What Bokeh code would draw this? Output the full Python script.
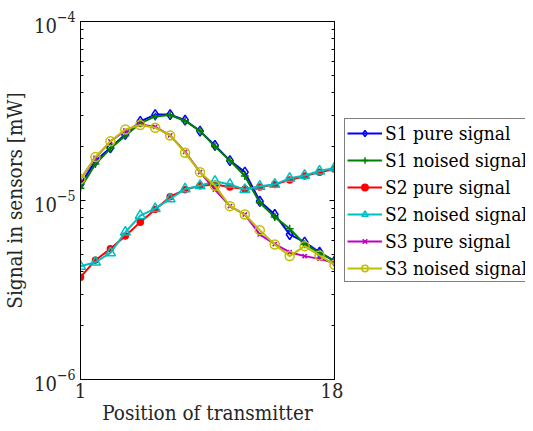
from bokeh.plotting import figure
from bokeh.layouts import row
from bokeh.models import (FixedTicker, LogAxis, Legend, LegendItem, Range1d)
from bokeh.embed import file_html
from bokeh.resources import INLINE

positions = list(range(1, 19))
s1_pure = [1.23e-5, 1.66e-5, 1.97e-5, 2.34e-5, 2.77e-5, 3.02e-5, 3.02e-5, 2.81e-5, 2.44e-5,
           2.03e-5, 1.67e-5, 1.44e-5, 9.9e-6, 8.35e-6, 6.46e-6, 5.85e-6, 5.14e-6, 4.58e-6]
s1_noised = [1.17e-5, 1.60e-5, 1.95e-5, 2.30e-5, 2.70e-5, 2.95e-5, 3.00e-5, 2.78e-5, 2.45e-5,
             2.00e-5, 1.67e-5, 1.37e-5, 9.7e-6, 8.1e-6, 6.95e-6, 5.7e-6, 5.1e-6, 4.6e-6]
s2_pure = [3.73e-6, 4.64e-6, 5.37e-6, 6.33e-6, 7.57e-6, 8.9e-6, 1.05e-5, 1.15e-5, 1.21e-5,
           1.23e-5, 1.19e-5, 1.16e-5, 1.19e-5, 1.23e-5, 1.30e-5, 1.37e-5, 1.44e-5, 1.50e-5]
s2_noised = [4.29e-6, 4.52e-6, 5.10e-6, 6.65e-6, 8.24e-6, 9.0e-6, 1.02e-5, 1.16e-5, 1.21e-5,
             1.28e-5, 1.23e-5, 1.15e-5, 1.20e-5, 1.23e-5, 1.33e-5, 1.38e-5, 1.46e-5, 1.52e-5]
s3_pure = [1.32e-5, 1.73e-5, 2.14e-5, 2.46e-5, 2.66e-5, 2.58e-5, 2.31e-5, 1.87e-5, 1.44e-5,
           1.15e-5, 9.3e-6, 8.35e-6, 6.46e-6, 5.7e-6, 5.14e-6, 4.89e-6, 4.72e-6, 4.48e-6]
s3_noised = [1.32e-5, 1.75e-5, 2.14e-5, 2.49e-5, 2.64e-5, 2.55e-5, 2.31e-5, 1.85e-5, 1.44e-5,
             1.21e-5, 9.3e-6, 8.35e-6, 6.83e-6, 5.68e-6, 4.89e-6, 5.56e-6, 4.93e-6, 4.38e-6]

series_labels = ["S1 pure signal", "S1 noised signal", "S2 pure signal",
                 "S2 noised signal", "S3 pure signal", "S3 noised signal"]
y_major = [1e-6, 1e-5, 1e-4]
x_major = [1, 18]

FONT = "DejaVu Serif Condensed"

p = figure(frame_width=254, frame_height=358, y_axis_type="log",
           x_range=Range1d(1, 18), y_range=Range1d(1e-6, 1e-4),
           output_backend="svg", toolbar_location=None,
           min_border_left=72, min_border_top=21, min_border_right=9,
           min_border_bottom=51)
p.grid.visible = False
p.outline_line_color = "black"
p.outline_line_width = 1

minor = [m * 10.0 ** e for e in (-6, -5) for m in range(2, 10)]

yax = p.yaxis[0]
yax.ticker = FixedTicker(ticks=y_major, minor_ticks=minor)
xax = p.xaxis[0]
xax.ticker = FixedTicker(ticks=x_major)

for ax in (xax, yax):
    ax.major_tick_in = 5
    ax.major_tick_out = 0
    ax.minor_tick_in = 3
    ax.minor_tick_out = 0
    ax.axis_line_color = "black"
    ax.major_label_text_font = FONT
    ax.major_label_text_font_size = "20px"
    ax.major_label_text_color = "#262626"
    ax.axis_label_text_font = FONT
    ax.axis_label_text_font_size = "20.5px"
    ax.axis_label_text_font_style = "normal"
    ax.axis_label_text_color = "#262626"

xax.axis_label = "Position of transmitter"
yax.axis_label = "Signal in sensors [mW]"
xax.axis_label_standoff = 0
yax.axis_label_standoff = 4
xax.major_label_standoff = 3

rax = LogAxis(ticker=FixedTicker(ticks=y_major, minor_ticks=minor),
              major_label_text_font_size="1px", major_label_text_color=None,
              major_label_standoff=0,
              major_tick_in=5, major_tick_out=0,
              minor_tick_in=3, minor_tick_out=0, axis_line_color="black")
p.add_layout(rax, "right")

data = [s1_pure, s1_noised, s2_pure, s2_noised, s3_pure, s3_noised]
colors = ["#0000ff", "#008000", "#ff0000", "#00bfbf", "#bf00bf", "#bfbf00"]
markers = ["diamond", "cross", "circle", "triangle", "x", "circle"]
sizes = [10, 8, 6, 10, 6, 9]
fills = [None, None, "#ff0000", None, None, None]

# legend panel: a second, axis-free figure holding the legend inside its frame
lg = figure(width=182, height=423, output_backend="svg", toolbar_location=None,
            x_axis_location=None, y_axis_location=None,
            min_border_left=0, min_border_right=0, min_border_top=0,
            min_border_bottom=0)
lg.grid.visible = False
lg.outline_line_color = None

items = []
for vals, col, mk, sz, fc, lab in zip(data, colors, markers, sizes, fills, series_labels):
    p.line(positions, vals, line_color=col, line_width=2)
    p.scatter(positions, vals, marker=mk, size=sz, line_color=col,
              fill_color=fc, line_width=1.5)
    l1 = lg.line(positions, vals, line_color=col, line_width=2, visible=False)
    l2 = lg.scatter(positions, vals, marker=mk, size=sz, line_color=col,
                    fill_color=fc, line_width=1.5, visible=False)
    items.append(LegendItem(label=lab, renderers=[l1, l2]))

legend = Legend(items=items, location=(1, 90), label_text_font=FONT,
                label_text_font_size="19px", label_text_color="black",
                border_line_color="black", border_line_width=1,
                glyph_width=35, glyph_height=16, label_standoff=3,
                spacing=4, padding=2, margin=0, label_height=23,
                background_fill_color="white", background_fill_alpha=1)
lg.add_layout(legend, "center")

open("out.html", "w").write(file_html(row(p, lg), INLINE))
